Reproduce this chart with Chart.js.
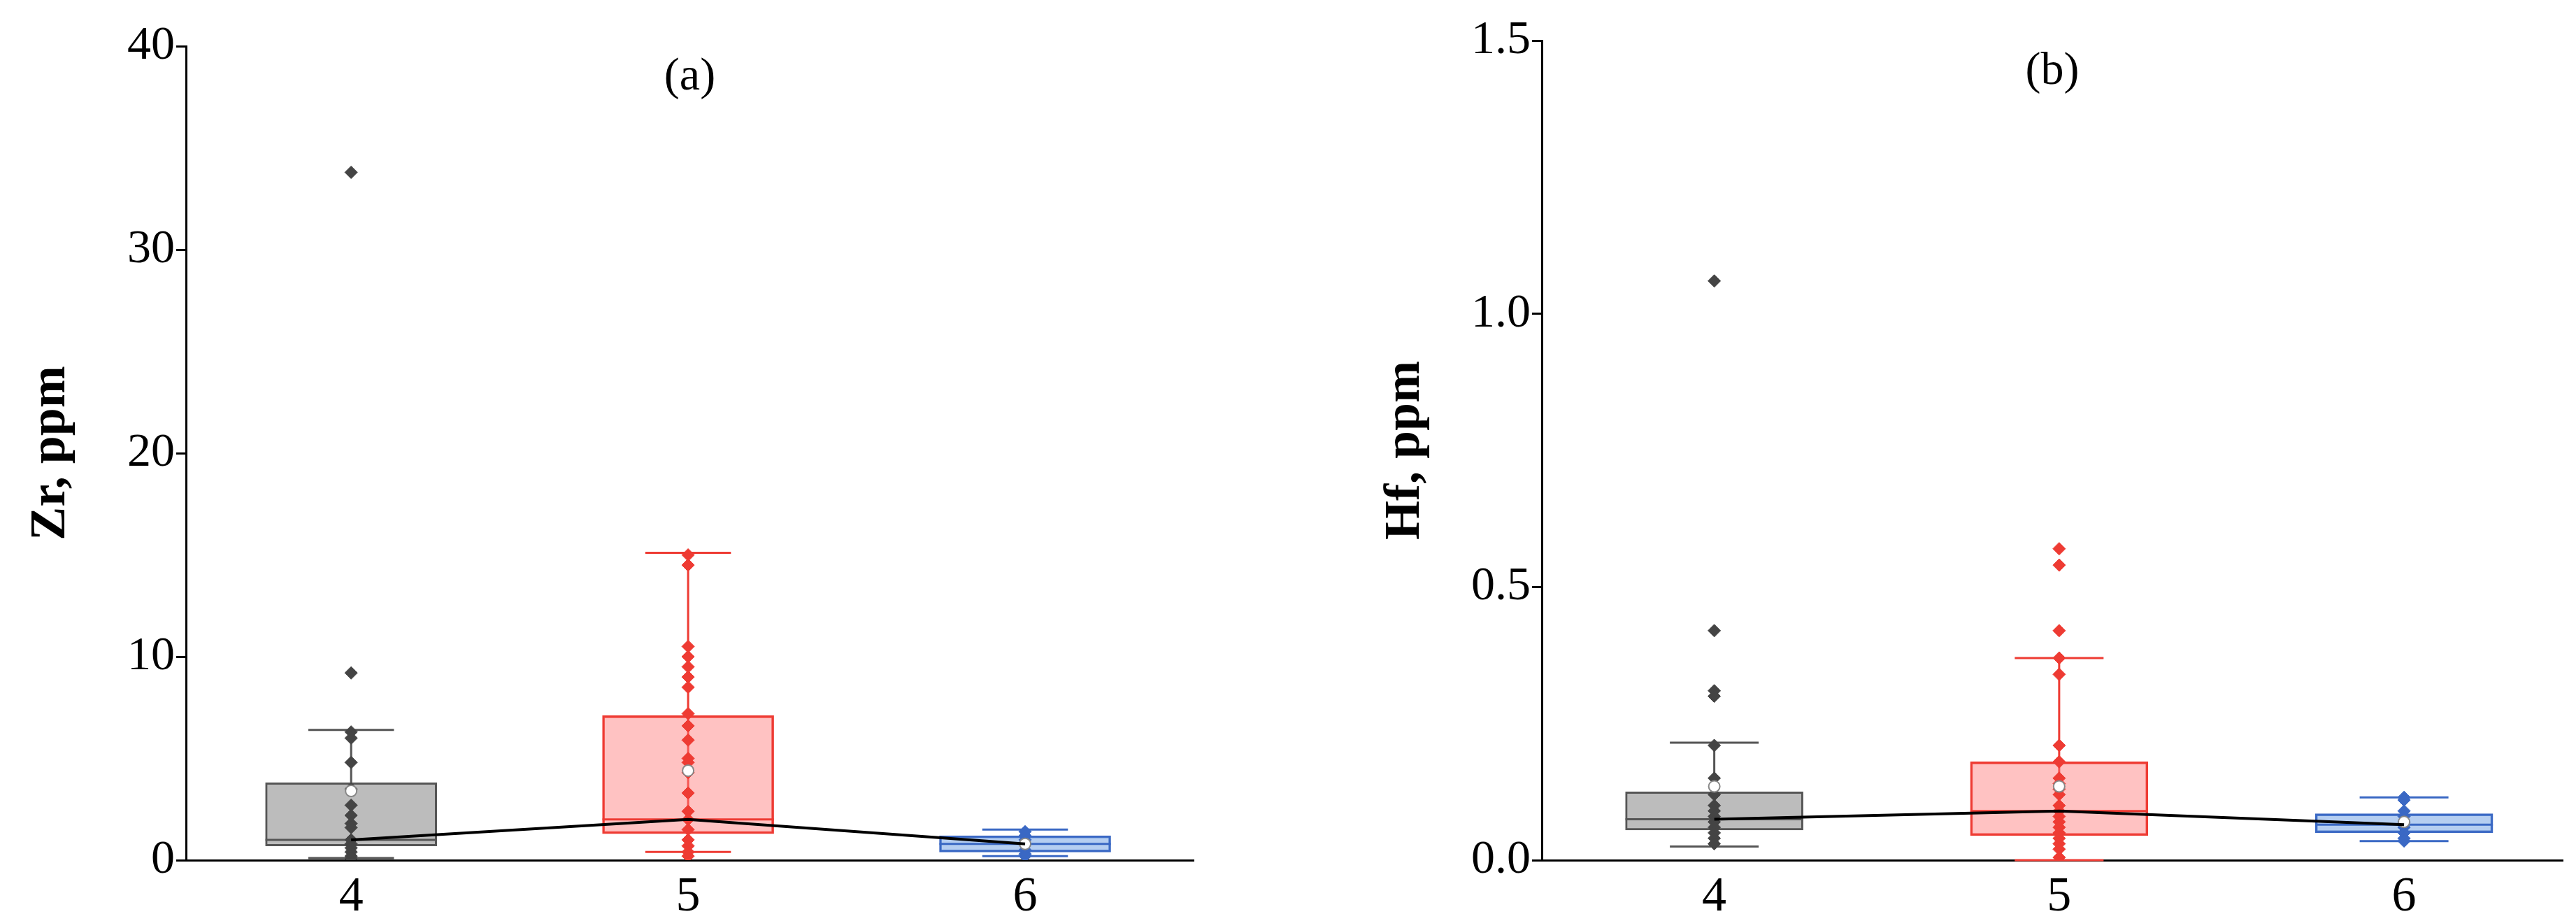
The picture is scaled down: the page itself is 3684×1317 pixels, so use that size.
<!DOCTYPE html>
<html>
<head>
<meta charset="utf-8">
<script src="https://cdn.jsdelivr.net/npm/chart.js@4"></script>
<style>
body{margin:0;background:#fff;width:3684px;height:1317px;position:relative;overflow:hidden}
.p{position:absolute;top:0;width:1842px;height:1317px}
</style>
</head>
<body>
<div class="p" style="left:0"><canvas id="ca"></canvas></div>
<div class="p" style="left:1842px"><canvas id="cb"></canvas></div>
<script>
"use strict"
const groups = [4, 5, 6];

// Zr, ppm
const zrQ1 = [0.7, 1.3, 0.4];
const zrMedian = [1.0, 2.0, 0.8];
const zrQ3 = [3.8, 7.1, 1.2];
const zrLow = [0.1, 0.4, 0.2];
const zrHigh = [6.4, 15.1, 1.5];
const zrMean = [3.4, 4.4, 0.8];
const zrPts4 = [33.8, 9.2, 6.3, 6.0, 4.8, 3.5, 2.7, 2.2, 1.8, 1.6, 1.0, 0.8, 0.6, 0.4, 0.2, 0.1];
const zrPts5 = [15.0, 14.5, 10.5, 10.0, 9.5, 9.0, 8.5, 7.2, 6.6, 5.9, 5.0, 4.8, 4.3, 3.3, 2.4, 2.0, 1.5, 1.0, 0.7, 0.4, 0.2];
const zrPts6 = [1.4, 1.2, 1.0, 0.8, 0.5, 0.3, 0.2];
const zrTicks = [0, 10, 20, 30, 40];

// Hf, ppm
const hfQ1 = [0.055, 0.045, 0.05];
const hfMedian = [0.075, 0.09, 0.065];
const hfQ3 = [0.125, 0.18, 0.085];
const hfLow = [0.025, 0.0, 0.035];
const hfHigh = [0.215, 0.37, 0.115];
const hfMean = [0.135, 0.135, 0.07];
const hfPts4 = [1.06, 0.42, 0.31, 0.30, 0.21, 0.15, 0.12, 0.10, 0.09, 0.08, 0.07, 0.06, 0.05, 0.04, 0.03];
const hfPts5 = [0.57, 0.54, 0.42, 0.37, 0.34, 0.21, 0.18, 0.15, 0.14, 0.13, 0.12, 0.10, 0.09, 0.08, 0.07, 0.06, 0.05, 0.04, 0.03, 0.02, 0.005];
const hfPts6 = [0.115, 0.11, 0.09, 0.08, 0.07, 0.06, 0.05, 0.04, 0.035];
const hfTicks = [0, 0.5, 1.0, 1.5];

const edge = ['#555555', '#ee3b33', '#3a68c4'];
const fill = ['#bcbcbc', 'rgba(255,120,120,0.45)', 'rgba(120,165,230,0.55)'];
const dot = ['#444444', '#ee3b33', '#3a68c4'];
const FONT = 'Liberation Serif';

const boxParts = {
    id: 'boxParts',
    beforeDatasetsDraw(chart) {
        const b = chart.options.plugins.boxParts;
        const ctx = chart.ctx, x = chart.scales.x, y = chart.scales.y;
        ctx.save();
        ctx.lineWidth = 3;
        groups.forEach((g, i) => {
            const cx = x.getPixelForValue(g);
            const half = b.cap / 2;
            ctx.strokeStyle = edge[i];
            ctx.beginPath();
            ctx.moveTo(cx, y.getPixelForValue(b.low[i]));
            ctx.lineTo(cx, y.getPixelForValue(b.high[i]));
            for (const v of [b.low[i], b.high[i]]) {
                ctx.moveTo(cx - half, y.getPixelForValue(v));
                ctx.lineTo(cx + half, y.getPixelForValue(v));
            }
            ctx.stroke();
        });
        ctx.restore();
    },
    afterDatasetDraw(chart, args) {
        if (args.index !== 0) return;
        const b = chart.options.plugins.boxParts;
        const ctx = chart.ctx, x = chart.scales.x, y = chart.scales.y;
        ctx.save();
        ctx.lineWidth = 3;
        groups.forEach((g, i) => {
            const cx = x.getPixelForValue(g);
            const py = y.getPixelForValue(b.median[i]);
            ctx.strokeStyle = edge[i];
            ctx.beginPath();
            ctx.moveTo(cx - b.box / 2, py);
            ctx.lineTo(cx + b.box / 2, py);
            ctx.stroke();
        });
        ctx.restore();
    },
    afterDraw(chart) {
        const b = chart.options.plugins.boxParts;
        const ctx = chart.ctx, a = chart.chartArea;
        ctx.save();
        ctx.fillStyle = '#000';
        ctx.font = '66px ' + FONT;
        ctx.textAlign = 'center';
        ctx.textBaseline = 'middle';
        ctx.fillText(b.label, (a.left + a.right) / 2 + b.labelDx, a.top + 45);
        ctx.restore();
    }
};

function makeChart(id, cfg) {
    const pts = cfg.pts.map((arr, i) => ({
        type: 'scatter',
        order: 2,
        data: arr.map(v => ({x: groups[i], y: v})),
        pointStyle: 'rectRot',
        pointRadius: 9,
        backgroundColor: dot[i],
        borderColor: dot[i],
        borderWidth: 1
    }));
    return new Chart(document.getElementById(id), {
        data: {
            datasets: [{
                type: 'bar',
                order: 3,
                data: groups.map((g, i) => ({x: g, y: [cfg.q1[i], cfg.q3[i]]})),
                backgroundColor: fill,
                borderColor: edge,
                borderWidth: 3,
                borderSkipped: false,
                barThickness: cfg.box
            }].concat(pts, [{
                type: 'scatter',
                order: 1,
                data: groups.map((g, i) => ({x: g, y: cfg.mean[i]})),
                pointStyle: 'circle',
                pointRadius: 8,
                backgroundColor: '#fff',
                borderColor: '#888',
                borderWidth: 2
            }, {
                type: 'line',
                order: 0,
                data: groups.map((g, i) => ({x: g, y: cfg.median[i]})),
                borderColor: '#000',
                borderWidth: 4,
                pointRadius: 0,
                fill: false
            }])
        },
        options: {
            responsive: false,
            animation: false,
            devicePixelRatio: 1,
            layout: {padding: {left: 0, right: cfg.padRight, top: cfg.padTop, bottom: 0}},
            plugins: {
                legend: {display: false},
                tooltip: {enabled: false},
                boxParts: {low: cfg.low, high: cfg.high, median: cfg.median, cap: cfg.box * 0.5, box: cfg.box, label: cfg.label, labelDx: cfg.labelDx}
            },
            scales: {
                x: {
                    type: 'linear',
                    offset: false,
                    min: cfg.xmin,
                    max: cfg.xmax,
                    afterBuildTicks: s => { s.ticks = groups.map(g => ({value: g})); },
                    afterFit: s => { s.height = cfg.xHeight; },
                    grid: {display: false},
                    border: {display: true, color: '#000', width: 3},
                    ticks: {color: '#000', font: {family: FONT, size: 70}, padding: 4}
                },
                y: {
                    min: 0,
                    max: cfg.yTicks[cfg.yTicks.length - 1],
                    afterBuildTicks: s => { s.ticks = cfg.yTicks.map(v => ({value: v})); },
                    afterFit: s => { s.width = cfg.yWidth; },
                    grid: {drawOnChartArea: false, drawTicks: true, tickLength: 14, color: '#000', lineWidth: 3},
                    border: {display: true, color: '#000', width: 3},
                    ticks: {color: '#000', font: {family: FONT, size: 68}, padding: 2,
                        callback: v => cfg.yFmt(v)},
                    title: {display: true, text: cfg.yTitle, color: '#000', font: {family: FONT, size: 72, weight: 'bold'}, padding: {top: cfg.titleLeft, bottom: 0}}
                }
            }
        },
        plugins: [boxParts]
    });
}

const ca = document.getElementById('ca'); ca.width = 1842; ca.height = 1317;
const cb = document.getElementById('cb'); cb.width = 1842; cb.height = 1317;

makeChart('ca', {
    q1: zrQ1, median: zrMedian, q3: zrQ3, low: zrLow, high: zrHigh, mean: zrMean,
    pts: [zrPts4, zrPts5, zrPts6], yTicks: zrTicks, yFmt: v => String(v),
    yTitle: 'Zr, ppm', label: '(a)', labelDx: 0,
    xmin: 3.51, xmax: 6.5, box: 245, yWidth: 266, padRight: 135, padTop: 66, xHeight: 87, titleLeft: 30
});
makeChart('cb', {
    q1: hfQ1, median: hfMedian, q3: hfQ3, low: hfLow, high: hfHigh, mean: hfMean,
    pts: [hfPts4, hfPts5, hfPts6], yTicks: hfTicks, yFmt: v => v.toFixed(1),
    yTitle: 'Hf, ppm', label: '(b)', labelDx: 0,
    xmin: 3.5, xmax: 6.46, box: 254, yWidth: 363, padRight: 19, padTop: 58, xHeight: 87, titleLeft: 125
});
</script>
</body>
</html>
